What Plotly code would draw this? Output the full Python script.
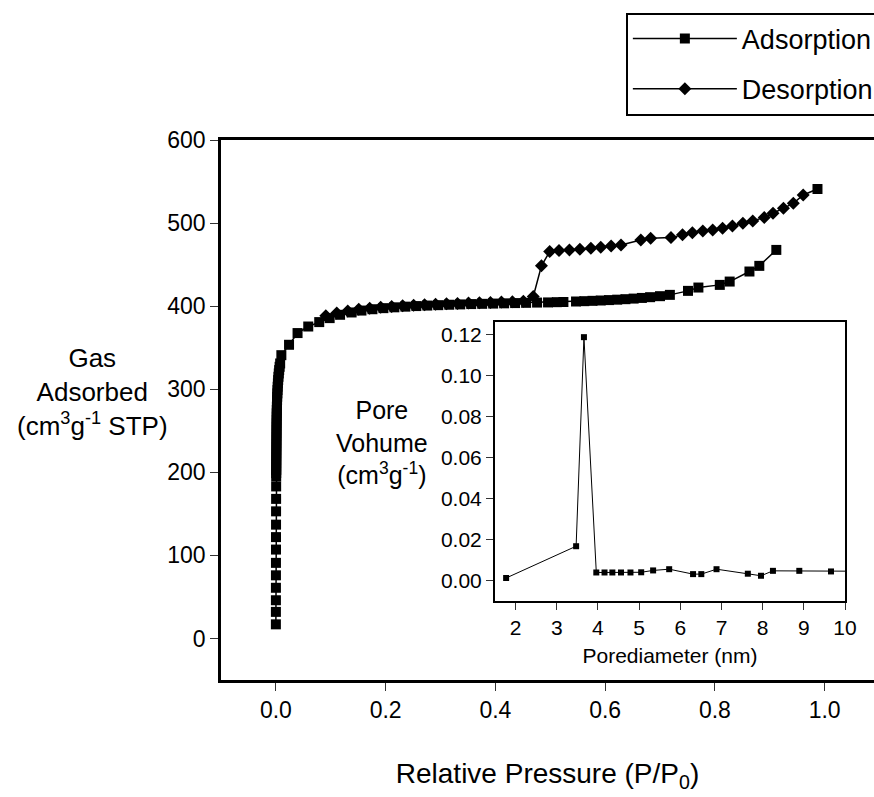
import plotly.graph_objects as go

# N2 adsorption branch: relative pressure P/P0 and volume adsorbed (cm3/g STP)
ads_p = [0.00002, 0.00004, 0.00006, 0.00009, 0.00012, 0.00016, 0.0002, 0.00025,
         0.0003, 0.00036, 0.00043, 0.0005, 0.00058, 0.00062, 0.00066, 0.0007,
         0.00074, 0.00078, 0.00082, 0.00086, 0.0009, 0.00095, 0.001, 0.00105,
         0.0011, 0.00115, 0.0012, 0.00125, 0.0013, 0.0014, 0.0015, 0.0016,
         0.0017, 0.0018, 0.002, 0.0022, 0.0024, 0.0027, 0.003, 0.0033, 0.0037,
         0.0042, 0.0047, 0.0053, 0.006, 0.0068, 0.0078, 0.010,
         0.024, 0.0395, 0.059, 0.079, 0.098, 0.117, 0.138, 0.156, 0.176, 0.196,
         0.216, 0.236, 0.256, 0.276, 0.296, 0.316, 0.336, 0.356, 0.376, 0.396,
         0.416, 0.436, 0.456, 0.476, 0.496, 0.512, 0.524,
         0.547, 0.562, 0.577, 0.592, 0.607, 0.622, 0.637, 0.652, 0.667, 0.682,
         0.700, 0.718, 0.751, 0.770, 0.809, 0.827, 0.863, 0.881, 0.912]
ads_v = [17, 32, 46, 61, 76, 91, 107, 122, 137, 153, 168, 183, 195, 199, 203,
         207, 211, 215, 219, 223, 227, 231, 235, 239, 243, 247, 251, 255, 259,
         263, 267, 271, 275, 279, 283, 287, 291, 295, 299, 303, 307, 311, 315,
         319, 323, 327, 331, 341,
         353.5, 367.6, 375.5, 380.8, 385.6, 389.6, 392.4, 394.7, 396.3, 397.6,
         398.6, 399.4, 400.1, 400.7, 401.2, 401.7, 402.1, 402.5, 402.8, 403.1,
         403.4, 403.7, 404.0, 404.3, 404.5, 404.8, 405.0,
         405.6, 406.0, 406.4, 406.8, 407.3, 407.8, 408.4, 409.1, 409.9, 410.8,
         412.0, 413.6, 418.4, 422.4, 425.6, 429.6, 441.7, 448.5, 467.7]

# Desorption branch (listed from low to high pressure; the last point is the
# saturation point shared with the adsorption run)
des_p = [0.091, 0.111, 0.131, 0.151, 0.171, 0.191, 0.211, 0.231, 0.251, 0.271,
         0.291, 0.311, 0.331, 0.351, 0.371, 0.391, 0.411, 0.431, 0.451,
         0.469, 0.484, 0.499, 0.516, 0.535, 0.554, 0.574, 0.592, 0.611, 0.629,
         0.665, 0.683, 0.720, 0.741, 0.759, 0.778, 0.796, 0.814, 0.832, 0.851,
         0.869, 0.890, 0.906, 0.925, 0.943, 0.961, 0.987]
des_v = [388.5, 391.8, 394.3, 396.2, 397.6, 398.8, 399.7, 400.5, 401.2, 401.8,
         402.3, 402.8, 403.3, 403.7, 404.1, 404.5, 404.9, 405.3, 405.8,
         411.5, 448.5, 465.7, 466.9, 467.7, 468.6, 469.8, 471.0, 472.5, 473.7,
         479.7, 481.8, 482.5, 485.8, 488.5, 490.6, 491.8, 493.8, 496.6, 499.8,
         502.6, 506.6, 511.8, 517.8, 523.8, 533.8, 541]

# Pore size distribution (inset)
pore_d = [1.77, 3.47, 3.66, 3.96, 4.16, 4.35, 4.56, 4.79, 5.05, 5.34, 5.73,
          6.31, 6.51, 6.88, 7.64, 7.96, 8.25, 8.89, 9.66, 10.5]
pore_v = [0.0012, 0.0167, 0.1186, 0.0039, 0.0039, 0.0039, 0.0039, 0.0039,
          0.0040, 0.0049, 0.0055, 0.0031, 0.0031, 0.0055, 0.0033, 0.0023,
          0.0047, 0.0047, 0.0044, 0.0045]

main_ticks = [0.0, 0.2, 0.4, 0.6, 0.8, 1.0]
inset_ticks = [2, 3, 4, 5, 6, 7, 8, 9, 10]

FONT = "Liberation Sans, Arial, sans-serif"

des_symbols = ["diamond"] * (len(des_p) - 1) + ["square"]

fig = go.Figure()
fig.add_trace(go.Scatter(
    x=ads_p, y=ads_v, mode="lines+markers", name="Adsorption",
    legendgroup="a",
    line=dict(color="black", width=1.5),
    marker=dict(symbol="square", size=10, color="black"),
))
fig.add_trace(go.Scatter(
    x=des_p, y=des_v, mode="lines+markers", name="Desorption",
    legendgroup="d",
    line=dict(color="black", width=1.5),
    marker=dict(symbol=des_symbols, size=10, color="black"),
))
fig.add_trace(go.Scatter(
    x=pore_d, y=pore_v, mode="lines+markers", showlegend=False,
    xaxis="x2", yaxis="y2",
    line=dict(color="black", width=1),
    marker=dict(symbol="square", size=6, color="black"),
))

axis_common = dict(
    showgrid=False, zeroline=False, showline=True, linecolor="black",
    ticks="outside", tickcolor="#333", tickwidth=1.2,
)

fig.update_layout(
    width=874, height=797,
    margin=dict(l=221, r=0, t=140, b=117, autoexpand=False),
    paper_bgcolor="white", plot_bgcolor="white",
    font=dict(family=FONT, color="black"),
    xaxis=dict(
        axis_common, range=[-0.1, 1.09], tickvals=main_ticks,
        tickformat=".1f", linewidth=2.5, mirror=True, ticklen=8,
        tickfont=dict(family=FONT, size=23, color="black"),
        title=dict(text="Relative Pressure (P/P<sub>0</sub>)",
                   font=dict(family=FONT, size=28), standoff=42),
    ),
    yaxis=dict(
        axis_common, range=[-50, 600], dtick=100, linewidth=2.5,
        mirror=False, ticklen=8,
        tickfont=dict(family=FONT, size=23, color="black"),
    ),
    xaxis2=dict(
        axis_common, domain=[0.4196, 0.9556], anchor="y2", range=[1.5, 10],
        tickvals=inset_ticks, linewidth=2, mirror=True, ticklen=7,
        tickfont=dict(family=FONT, size=21, color="black"),
        title=dict(text="Porediameter (nm)", font=dict(family=FONT, size=21),
                   standoff=10),
    ),
    yaxis2=dict(
        axis_common, domain=[0.1463, 0.663], anchor="x2",
        range=[-0.01, 0.126], dtick=0.02, tickformat=".2f",
        linewidth=2, mirror=True, ticklen=7,
        tickfont=dict(family=FONT, size=21, color="black"),
    ),
    legend=dict(
        x=0.62, y=1.236, xanchor="left", yanchor="top",
        bgcolor="white", bordercolor="black", borderwidth=2,
        font=dict(family=FONT, size=27), itemwidth=104, tracegroupgap=12,
    ),
    annotations=[
        dict(text="Gas<br>Adsorbed<br>(cm<sup>3</sup>g<sup>-1</sup> STP)",
             xref="paper", yref="paper", x=-0.1975, y=0.533,
             xanchor="center", yanchor="middle", showarrow=False,
             font=dict(family=FONT, size=26)),
        dict(text="Pore<br>Vohume<br>(cm<sup>3</sup>g<sup>-1</sup>)",
             xref="paper", yref="paper", x=0.2466, y=0.439,
             xanchor="center", yanchor="middle", showarrow=False,
             font=dict(family=FONT, size=25)),
    ],
)

fig.write_html("out.html")
